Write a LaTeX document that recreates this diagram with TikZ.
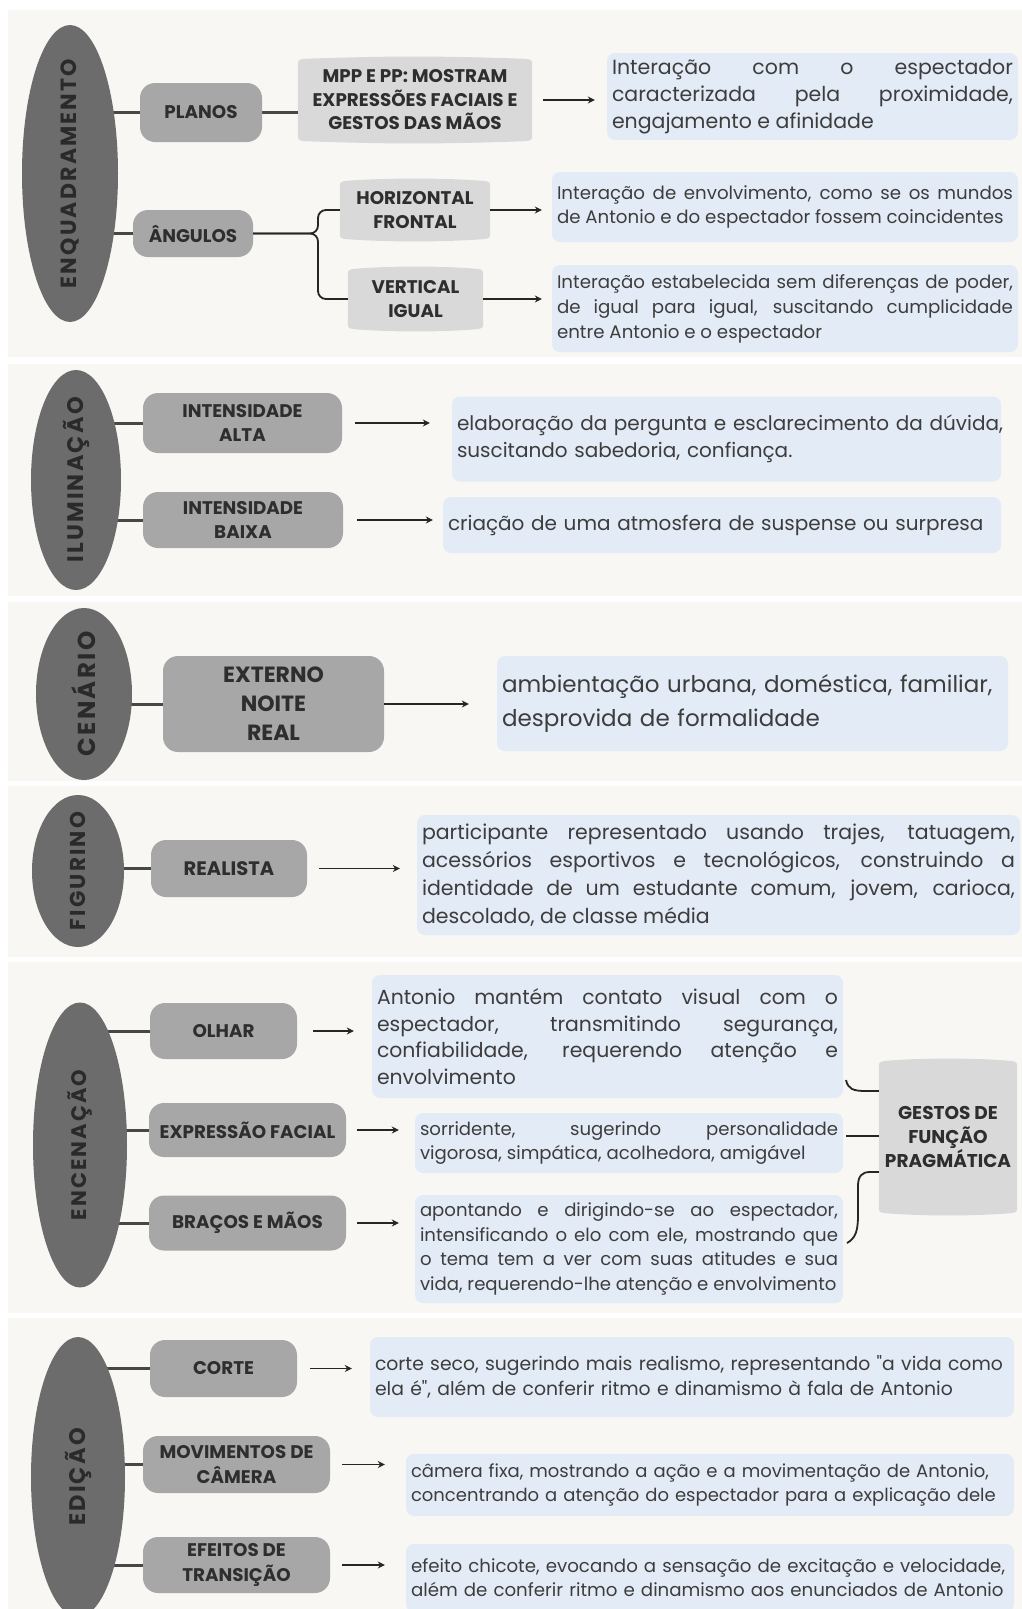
\documentclass[tikz,border=0pt]{standalone}
\usepackage{fontspec}
\setmainfont{Poppins}
\newfontfamily\popq{Poppins}
\usetikzlibrary{arrows.meta,calc,shapes.geometric}
\definecolor{panelc}{HTML}{F8F7F4}
\definecolor{ellc}{HTML}{6C6C6C}
\definecolor{elltc}{HTML}{2A2A2A}
\definecolor{catc}{HTML}{A7A7A7}
\definecolor{cattc}{HTML}{2E2E2E}
\definecolor{lgc}{HTML}{D9D9D9}
\definecolor{descc}{HTML}{E3EBF6}
\definecolor{dtxc}{HTML}{3D3D3D}
\definecolor{lnc}{HTML}{262626}
\definecolor{stemc}{HTML}{474747}
\pgfdeclarelayer{bottom}
\pgfdeclarelayer{back}
\pgfsetlayers{bottom,back,main}
\newcommand\qq{{\popq"}}
\newcommand\nh{\hyphenpenalty=10000 \exhyphenpenalty=10000 \emergencystretch=0pt}
\newcommand\bulge[1]{%
 \begin{pgfonlayer}{back}
 \fill[lgc] ($(#1.north west)+(0,-7)$) .. controls (#1.north west) .. ($(#1.north west)+(7,1)$)
   .. controls ($(#1.north)+(-25,4)$) and ($(#1.north)+(25,4)$) .. ($(#1.north east)+(-7,1)$)
   .. controls (#1.north east) .. ($(#1.north east)+(0,-7)$)
   -- ($(#1.south east)+(0,7)$) .. controls (#1.south east) .. ($(#1.south east)+(-7,-1)$)
   .. controls ($(#1.south)+(25,-4)$) and ($(#1.south)+(-25,-4)$) .. ($(#1.south west)+(7,-1)$)
   .. controls (#1.south west) .. ($(#1.south west)+(0,7)$) -- cycle;
 \end{pgfonlayer}}
\newcommand\elf[1]{\fontsize{#1}{#1}\selectfont\bfseries\addfontfeature{LetterSpace=10}}
\tikzset{
  ellnode/.style={shape=ellipse, fill=ellc, inner sep=0pt},
  elltext/.style={rotate=90, text=elltc},
  catbox/.style={fill=catc, rounded corners=15pt, inner sep=0pt, align=center, text=cattc, font=\fontsize{18.3}{24.5}\selectfont\bfseries},
  lgbox/.style={inner sep=0pt, align=center, text=cattc, font=\fontsize{18.3}{23.5}\selectfont\bfseries},
  desc/.style={fill=descc, rounded corners=8pt, inner xsep=5pt, inner ysep=0pt, align=justify, text=dtxc, execute at begin node=\nh},
  descl/.style={fill=descc, rounded corners=8pt, inner xsep=5pt, inner ysep=0pt, align=left, text=dtxc},
  stem/.style={draw=stemc, line width=3pt},
  arr/.style={draw=lnc, line width=1.8pt, -{Stealth[length=7pt,width=7pt]}},
  conn/.style={draw=lnc, line width=1.8pt},
}
\begin{document}
\begin{tikzpicture}[x=1pt,y=1pt]
\useasboundingbox (0,0) rectangle (1022,-1609);
\clip (0,0) rectangle (1022,-1609);
\begin{pgfonlayer}{bottom}
\fill[white] (0,0) rectangle (1022,-1609);
\fill[panelc] (8,-10) rectangle (1022,-357);
\fill[panelc] (8,-364) rectangle (1022,-596);
\fill[panelc] (8,-602) rectangle (1022,-781);
\fill[panelc] (8,-786) rectangle (1022,-957);
\fill[panelc] (8,-962) rectangle (1022,-1313);
\fill[panelc] (8,-1318) rectangle (1022,-1609);
\end{pgfonlayer}

% ---------- Section 1: ENQUADRAMENTO
\node[ellnode, minimum width=96, minimum height=297] (e1) at (70,-173.5) {};
\node[elltext, font=\elf{22}] at (e1) {ENQUADRAMENTO};
\node[catbox, minimum width=122, minimum height=59] (planos) at (201,-112.5) {PLANOS};
\node[lgbox, minimum width=234, minimum height=80] (mpp) at (415,-100) {MPP E PP: MOSTRAM\\EXPRESSÕES FACIAIS E\\GESTOS DAS MÃOS};
\bulge{mpp}
\node[desc, text width=401, minimum height=87, font=\fontsize{20.5}{27}\selectfont] (d1) at (812.5,-96.5) {Interação com o espectador\linebreak caracterizada pela proximidade,\linebreak engajamento e afinidade};
\node[catbox, minimum width=120, minimum height=47] (ang) at (193,-233.5) {ÂNGULOS};
\node[lgbox, minimum width=150, minimum height=56] (hor) at (415,-210) {HORIZONTAL\\FRONTAL};
\bulge{hor}
\node[lgbox, minimum width=135, minimum height=58] (ver) at (415.5,-299) {VERTICAL\\IGUAL};
\bulge{ver}
\node[desc, text width=456, minimum height=70, font=\fontsize{18.2}{24.5}\selectfont] (d2) at (785,-207) {Interação de envolvimento, como se os mundos\linebreak de Antonio e do espectador fossem coincidentes};
\node[desc, text width=456, minimum height=87, font=\fontsize{18.2}{25}\selectfont] (d3) at (785,-308.5) {Interação estabelecida sem diferenças de poder,\linebreak de igual para igual, suscitando cumplicidade\linebreak entre Antonio e o espectador};
\coordinate (brc) at (318,-233.5);

% ---------- Section 2: ILUMINACAO
\node[ellnode, minimum width=90, minimum height=220] (e2) at (76,-480) {};
\node[elltext, font=\elf{22.5}] at (e2) {ILUMINAÇÃO};
\node[catbox, minimum width=199, minimum height=60] (alta) at (242.5,-423) {INTENSIDADE\\ALTA};
\node[catbox, minimum width=200, minimum height=56] (baixa) at (243,-520) {INTENSIDADE\\BAIXA};
\node[descl, text width=539, minimum height=85, font=\fontsize{20}{27}\selectfont] (d4) at (726.5,-439) {\mbox{elaboração da pergunta e esclarecimento da dúvida,}\\\mbox{suscitando sabedoria, confiança.}};
\node[descl, text width=548, minimum height=56, font=\fontsize{20}{27}\selectfont] (d5) at (722,-525) {\mbox{criação de uma atmosfera de suspense ou surpresa}};

% ---------- Section 3: CENARIO
\node[ellnode, minimum width=96, minimum height=172] (e3) at (84,-694) {};
\node[elltext, font=\elf{24.5}] at (e3) {CENÁRIO};
\node[catbox, minimum width=221, minimum height=96, font=\fontsize{22}{29}\selectfont\bfseries] (ext) at (273.5,-704) {EXTERNO\\NOITE\\REAL};
\node[descl, text width=501, minimum height=95, font=\fontsize{23}{34}\selectfont] (d6) at (752.5,-703.5) {\mbox{ambientação urbana, doméstica, familiar,}\\\mbox{desprovida de formalidade}};

% ---------- Section 4: FIGURINO
\node[ellnode, minimum width=92, minimum height=152] (e4) at (78,-871) {};
\node[elltext, font=\elf{21.5}] at (e4) {FIGURINO};
\node[catbox, minimum width=156, minimum height=57, font=\fontsize{19.5}{24}\selectfont\bfseries] (real) at (229,-868.5) {REALISTA};
\node[desc, text width=593, minimum height=120, font=\fontsize{20.5}{28}\selectfont] (d7) at (718.5,-875) {participante representado usando trajes, tatuagem,\linebreak acessórios esportivos e tecnológicos, construindo a\linebreak identidade de um estudante comum, jovem, carioca,\linebreak descolado, de classe média};

% ---------- Section 5: ENCENACAO
\node[ellnode, minimum width=94, minimum height=285] (e5) at (80,-1145) {};
\node[elltext, font=\elf{21}] at (e5) {ENCENAÇÃO};
\node[catbox, minimum width=147, minimum height=56] (olhar) at (223.5,-1031) {OLHAR};
\node[catbox, minimum width=197, minimum height=54] (expr) at (247.5,-1130) {EXPRESSÃO FACIAL};
\node[catbox, minimum width=197, minimum height=55] (bra) at (247.5,-1223) {BRAÇOS E MÃOS};
\node[desc, text width=461, minimum height=123, font=\fontsize{20.4}{26.7}\selectfont] (d8) at (607.5,-1036.5) {Antonio mantém contato visual com o\linebreak espectador, transmitindo segurança,\linebreak confiabilidade, requerendo atenção e\linebreak envolvimento};
\node[desc, text width=418, minimum height=60, font=\fontsize{18.1}{24.5}\selectfont] (d9) at (629,-1143) {sorridente, sugerindo personalidade\linebreak vigorosa, simpática, acolhedora, amigável};
\node[desc, text width=418, minimum height=108, font=\fontsize{18.1}{24.5}\selectfont] (d10) at (629,-1249) {apontando e dirigindo-se ao espectador,\linebreak intensificando o elo com ele, mostrando que\linebreak o tema tem a ver com suas atitudes e sua\linebreak vida, requerendo-lhe atenção e envolvimento};
\node[lgbox, minimum width=138, minimum height=150, font=\fontsize{18.5}{24}\selectfont\bfseries] (gest) at (948,-1137) {GESTOS DE\\FUNÇÃO\\PRAGMÁTICA};
\bulge{gest}
\coordinate (g1s) at (846,-1080);
\coordinate (g1m) at (866,-1091);
\coordinate (g2s) at (846,-1136);
\coordinate (g3s) at (847,-1243);
\coordinate (g3m) at (870,-1172);

% ---------- Section 6: EDICAO
\node[ellnode, minimum width=94, minimum height=280] (e6) at (78,-1477) {};
\node[elltext, font=\elf{22.5}] at (e6) {EDIÇÃO};
\node[catbox, minimum width=147, minimum height=57] (corte) at (223.5,-1368.5) {CORTE};
\node[catbox, minimum width=187, minimum height=57] (mov) at (236.5,-1464.5) {MOVIMENTOS DE\\CÂMERA};
\node[catbox, minimum width=187, minimum height=56] (efe) at (236.5,-1565) {EFEITOS DE\\TRANSIÇÃO};
\node[descl, text width=634, minimum height=80, font=\fontsize{18.8}{24.6}\selectfont] (d11) at (692,-1377) {\mbox{corte seco, sugerindo mais realismo, representando \qq a vida como}\\\mbox{ela é\qq, além de conferir ritmo e dinamismo à fala de Antonio}};
\node[descl, text width=598, minimum height=62, font=\fontsize{18}{23.6}\selectfont] (d12) at (710,-1485) {\mbox{câmera fixa, mostrando a ação e a movimentação de Antonio,}\\\mbox{concentrando a atenção do espectador para a explicação dele}};
\node[descl, text width=598, minimum height=68, font=\fontsize{18.2}{24}\selectfont] (d13) at (710,-1578) {\mbox{efeito chicote, evocando a sensação de excitação e velocidade,}\\\mbox{além de conferir ritmo e dinamismo aos enunciados de Antonio}};

% ---------- connectors
\begin{pgfonlayer}{back}
\draw[stem] (e1.center |- planos.west) -- (planos.west);
\draw[stem] (e1.center |- ang.west) -- (ang.west);
\draw[stem] (planos.east) -- (planos.east -| mpp.west);
\draw[stem] (e2.center |- alta.west) -- (alta.west);
\draw[stem] (e2.center |- baixa.west) -- (baixa.west);
\draw[stem] (e3.center |- ext.west) -- (ext.west);
\draw[stem] (e4.center |- real.west) -- (real.west);
\draw[stem] (e5.center |- olhar.west) -- (olhar.west);
\draw[stem] (e5.center |- expr.west) -- (expr.west);
\draw[stem] (e5.center |- bra.west) -- (bra.west);
\draw[stem] (e6.center |- corte.west) -- (corte.west);
\draw[stem] (e6.center |- mov.west) -- (mov.west);
\draw[stem] (e6.center |- efe.west) -- (efe.west);
\end{pgfonlayer}
\draw[conn, rounded corners=8pt] (ang.east) -- (brc) |- (hor.west);
\draw[conn, rounded corners=8pt] (ang.east) -- (brc) |- (ver.west);
\draw[arr, shorten <=11pt, shorten >=12pt] (mpp.east) -- (mpp.east -| d1.west);
\draw[arr, shorten >=10pt] (hor.east) -- (hor.east -| d2.west);
\draw[arr, shorten >=10pt] (ver.east) -- (ver.east -| d3.west);
\draw[arr, shorten <=13pt, shorten >=22pt] (alta.east) -- (alta.east -| d4.west);
\draw[arr, shorten <=14pt, shorten >=10pt] (baixa.east) -- (baixa.east -| d5.west);
\draw[arr, shorten >=28pt] (ext.east) -- (ext.east -| d6.west);
\draw[arr, shorten <=12pt, shorten >=17pt] (real.east) -- (real.east -| d7.west);
\draw[arr, shorten <=16pt, shorten >=18pt] (olhar.east) -- (olhar.east -| d8.west);
\draw[arr, shorten <=11pt, shorten >=16pt] (expr.east) -- (expr.east -| d9.west);
\draw[arr, shorten <=11pt, shorten >=16pt] (bra.east) -- (bra.east -| d10.west);
\draw[arr, shorten <=13pt, shorten >=18pt] (corte.east) -- (corte.east -| d11.west);
\draw[arr, shorten <=12pt, shorten >=21pt] (mov.east) -- (mov.east -| d12.west);
\draw[arr, shorten <=12pt, shorten >=21pt] (efe.east) -- (efe.east -| d13.west);
\draw[conn] (g1s) .. controls (848,-1089) and (853,-1091) .. (g1m) -- (g1m -| gest.west);
\draw[conn] (g2s) -- (g2s -| gest.west);
\draw[conn] (g3s) .. controls (856,-1238) and (858,-1230) .. (858,-1215) -- (858,-1186) .. controls (858,-1176) and (862,-1172) .. (g3m) -- (g3m -| gest.west);
\end{tikzpicture}
\end{document}
